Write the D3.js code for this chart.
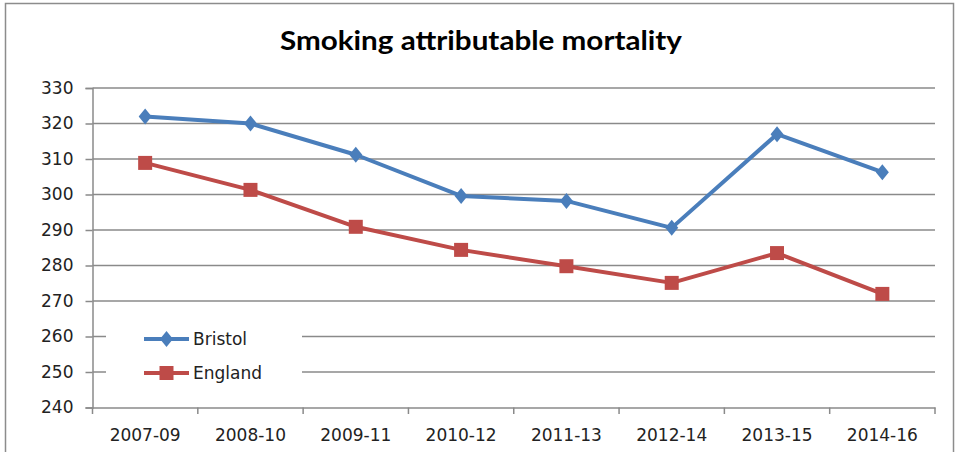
<!DOCTYPE html>
<html><head><meta charset="utf-8">
<script src="https://cdn.jsdelivr.net/npm/d3@7"></script>
<style>body{margin:0;background:#fff;} svg{display:block;}</style>
</head><body>
<script>
const title = "Smoking attributable mortality";
const categories = ["2007-09","2008-10","2009-11","2010-12","2011-13","2012-14","2013-15","2014-16"];
const bristol = [322.0, 320.0, 311.2, 299.6, 298.2, 290.6, 317.0, 306.3];
const england = [308.9, 301.3, 290.9, 284.4, 279.8, 275.1, 283.5, 272.0];
const seriesNames = ["Bristol","England"];
const yTicks = [240,250,260,270,280,290,300,310,320,330];

const W=960,H=452;
const svg=d3.select("body").append("svg").attr("width",W).attr("height",H);
svg.append("rect").attr("x",5.5).attr("y",3.5).attr("width",948).attr("height",470)
  .attr("fill","#fff").attr("stroke","#8c8c8c").attr("stroke-width",1.5);

const x=d3.scaleBand().domain(categories).range([92.5,935]).padding(0);
const y=d3.scaleLinear().domain([240,330]).range([407.5,88]);
const grid="#8a8a8a";

// gridlines
svg.append("g").selectAll("line").data(yTicks.slice(1)).join("line")
  .attr("x1",92.5).attr("x2",935).attr("y1",d=>y(d)).attr("y2",d=>y(d))
  .attr("stroke",grid).attr("stroke-width",1.5);

// y axis
const yAx=svg.append("g").attr("transform","translate(92.5,0)")
  .call(d3.axisLeft(y).tickValues(yTicks).tickSize(7).tickPadding(12));
yAx.select(".domain").attr("stroke",grid).attr("stroke-width",1.5);
yAx.selectAll(".tick line").attr("stroke",grid).attr("stroke-width",1.5);
yAx.selectAll("text").attr("font-family","DejaVu Sans").attr("font-size",17).attr("fill","#222");

// x axis
const xAx=svg.append("g").attr("transform","translate(0,407.5)")
  .call(d3.axisBottom(x).tickSize(0).tickPadding(21));
xAx.select(".domain").attr("stroke",grid).attr("stroke-width",1.5);
xAx.selectAll("text").attr("font-family","DejaVu Sans").attr("font-size",17).attr("fill","#222");
const bounds=categories.map(c=>x(c)).concat([x.range()[1]]);
svg.append("g").selectAll("line").data(bounds).join("line")
  .attr("x1",d=>d).attr("x2",d=>d).attr("y1",407.5).attr("y2",414)
  .attr("stroke",grid).attr("stroke-width",1.5);

const cx=c=>x(c)+x.bandwidth()/2;
const colors=["#4a7ebb","#be4b48"];
const diamond="M0,-8L6.5,0L0,8L-6.5,0Z";
const square="M-7,-7H7V7H-7Z";
const markers=[diamond,square];
[bristol,england].forEach((vals,i)=>{
  const line=d3.line().x((d,j)=>cx(categories[j])).y(d=>y(d));
  svg.append("path").datum(vals).attr("d",line).attr("fill","none")
    .attr("stroke",colors[i]).attr("stroke-width",4).attr("stroke-linejoin","round");
  svg.append("g").selectAll("path").data(vals).join("path")
    .attr("transform",(d,j)=>`translate(${cx(categories[j])},${y(d)})`)
    .attr("d",markers[i]).attr("fill",colors[i]);
});

// legend
svg.append("rect").attr("x",106).attr("y",318).attr("width",196).attr("height",74).attr("fill","#fff");
const ly=[339,373];
seriesNames.forEach((n,i)=>{
  svg.append("line").attr("x1",144).attr("x2",189).attr("y1",ly[i]).attr("y2",ly[i])
    .attr("stroke",colors[i]).attr("stroke-width",4);
  svg.append("path").attr("transform",`translate(166.5,${ly[i]})`).attr("d",markers[i]).attr("fill",colors[i]);
  svg.append("text").attr("x",193).attr("y",ly[i]+6).text(n)
    .attr("font-family","DejaVu Sans").attr("font-size",17).attr("fill","#222");
});

svg.append("text").attr("x",481).attr("y",50).attr("text-anchor","middle")
  .attr("font-family","Lato").attr("font-weight","bold").attr("font-size",27)
  .attr("textLength",402).attr("lengthAdjust","spacingAndGlyphs")
  .attr("fill","#000").text(title);
</script>
</body></html>
